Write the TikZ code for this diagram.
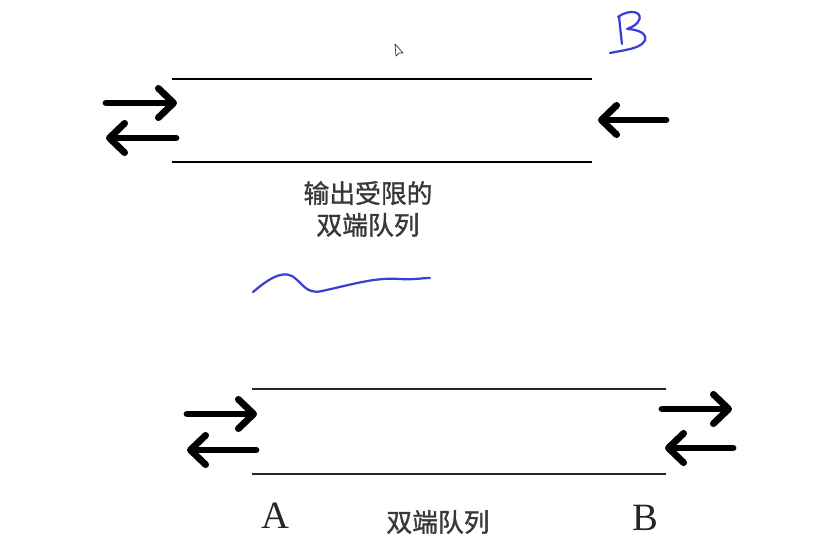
\documentclass[tikz,border=0pt]{standalone}
\usepackage{fontspec}
\usepackage{tikz}
\usepackage{xcolor}
\usetikzlibrary{arrows.meta, positioning}
\newfontfamily\cjk[FakeBold=1.2]{Noto Sans CJK SC}
\newfontfamily\endfont{Liberation Serif}
\definecolor{inkgray}{HTML}{383838}
\definecolor{penblue}{HTML}{3C3CD6}

\begin{document}
\begin{tikzpicture}[
        x=0.03cm, y=-0.03cm,
        wall/.style={line width=2.5pt, black},
        thinwall/.style={line width=1.9pt, black!85},
        flow/.style={line width=5.8pt, line cap=round, -{Straight Barb[length=13pt, width=25pt, round]}},
        cjklabel/.style={font=\cjk\fontsize{22}{27}\selectfont, text=inkgray, align=center, inner sep=0pt},
        endlabel/.style={font=\endfont\fontsize{33}{33}\selectfont, text=black!85, inner sep=0pt},
        pen/.style={penblue, line width=1.9pt, line cap=round, line join=round}
    ]
        \useasboundingbox (0,0) rectangle (816,559);

        % output-restricted deque
        \coordinate (otl) at (172,79);
        \coordinate (otr) at (592,79);
        \coordinate (obl) at (172,162);
        \coordinate (obr) at (592,162);
        \draw[wall] (otl) -- (otr);
        \draw[wall] (obl) -- (obr);

        \draw[flow] (106,103) -- (177,103);
        \draw[flow] (176,138) -- (106,138);
        \draw[flow] (666,120) -- (598,120);

        \node[cjklabel] (otitle) at (368,209) {输出受限的\\双端队列};

        % pen marks
        \draw[pen] (619,16) .. controls (620,26) and (621,36) .. (622,44);
        \draw[pen] (618,17) .. controls (630,8) and (645,12) .. (638,22)
                   .. controls (634,27) and (629,28) .. (627,29)
                   .. controls (650,30) and (652,44) .. (630,49)
                   .. controls (622,51) and (614,52) .. (610,53);
        \draw[pen] (253,292) .. controls (265,282) and (280,270) .. (292,276)
                   .. controls (302,282) and (306,295) .. (322,291)
                   .. controls (350,285) and (375,277) .. (400,279)
                   .. controls (412,280) and (422,278) .. (430,278);

        % cursor
        \draw[black!80, line width=0.6pt, line join=round] (395,44) -- (396,56) -- (399,53) -- (403,53) -- cycle;

        % double-ended queue
        \coordinate (dtl) at (252,389);
        \coordinate (dtr) at (666,389);
        \coordinate (dbl) at (252,474);
        \coordinate (dbr) at (666,474);
        \draw[thinwall] (dtl) -- (dtr);
        \draw[thinwall] (dbl) -- (dbr);

        \draw[flow] (187,414) -- (257,414);
        \draw[flow] (256,450) -- (187,450);
        \draw[flow] (662,409) -- (732,409);
        \draw[flow] (733,448) -- (665,448);

        \node[endlabel] (enda) at (275,516) {A};
        \node[cjklabel] (dtitle) at (438,522) {双端队列};
        \node[endlabel] (endb) at (645,518) {B};
    \end{tikzpicture}
\end{document}
